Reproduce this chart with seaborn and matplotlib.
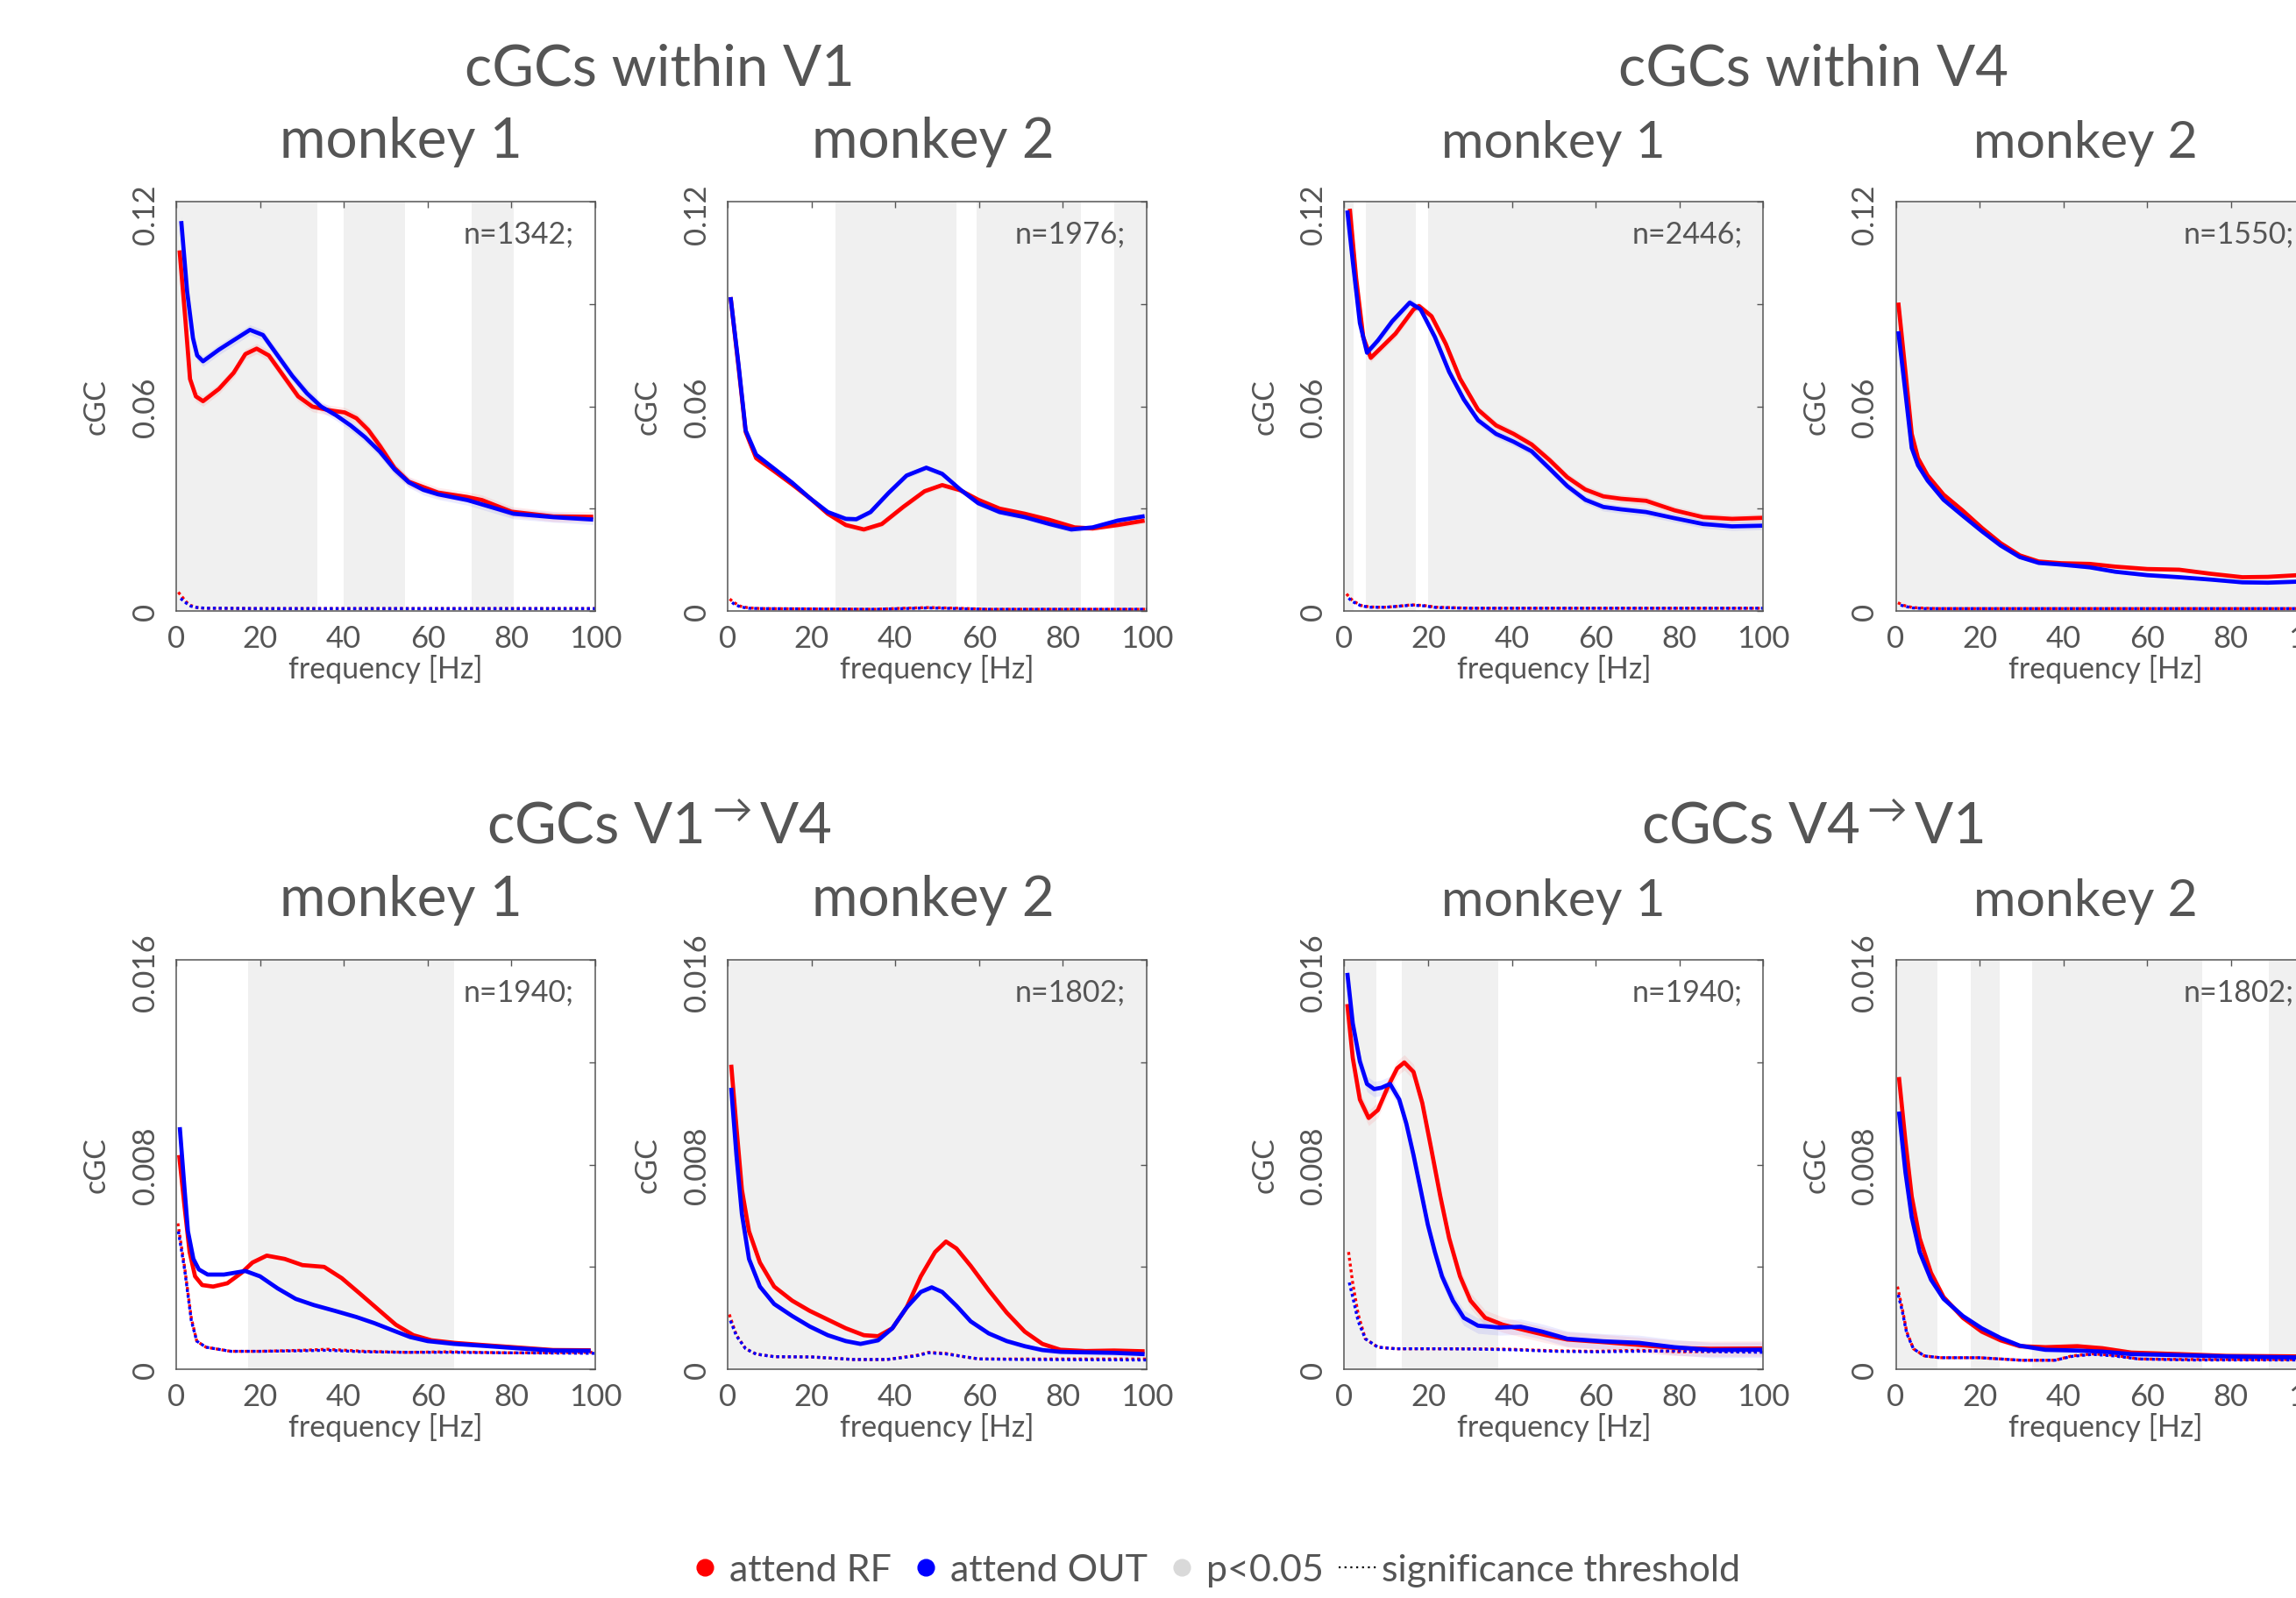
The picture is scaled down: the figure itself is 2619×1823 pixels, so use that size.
import numpy as np
import matplotlib
matplotlib.use("Agg")
import matplotlib.pyplot as plt
from matplotlib.lines import Line2D
from matplotlib.transforms import ScaledTranslation
import seaborn as sns

# ---------------- data ----------------
# top row: cGCs within V1 / V4   (y range 0 .. 0.12)
V1M1_F_RF = [0.8, 2.2, 3.3, 4.7, 6.4, 10.2, 13.7, 16.5, 19.2, 22.1, 25.6, 29.1, 32.5, 36.7, 40.2, 43, 45.8, 48.6, 52.1, 55.5, 62.5, 69.5, 73, 80, 90, 99.5]
V1M1_RF = [0.1057, 0.0852, 0.068, 0.0629, 0.0615, 0.0651, 0.0698, 0.0753, 0.0769, 0.0749, 0.0689, 0.0629, 0.0599, 0.0588, 0.0582, 0.0565, 0.0531, 0.0484, 0.0419, 0.0379, 0.0347, 0.0334, 0.0325, 0.0291, 0.0277, 0.0276]
V1M1_F_OUT = [1.2, 2.6, 4.0, 5.0, 6.4, 10.2, 13.5, 17.6, 20.7, 24.2, 27.7, 31.2, 34.6, 38.1, 41.6, 45.1, 48.6, 52.1, 55.5, 59, 62.5, 69.5, 76.4, 80.5, 90, 99.5]
V1M1_OUT = [0.1143, 0.0937, 0.080, 0.0749, 0.0732, 0.0766, 0.0792, 0.0824, 0.0809, 0.0749, 0.0689, 0.0638, 0.0599, 0.0574, 0.0544, 0.0509, 0.0467, 0.0415, 0.0377, 0.0355, 0.0342, 0.0325, 0.0300, 0.0285, 0.0275, 0.0268]
V1M1_THR_F = [0.5, 1.5, 2.5, 3.5, 5, 7, 10, 20, 40, 60, 80, 100]
V1M1_THR_RF = [0.0055, 0.0040, 0.0025, 0.0016, 0.0010, 0.0008, 0.0008, 0.0007, 0.0007, 0.0007, 0.0007, 0.0007]
V1M1_THR_OUT = [0.0042, 0.0032, 0.0022, 0.0014, 0.0010, 0.0008, 0.0008, 0.0007, 0.0007, 0.0007, 0.0007, 0.0007]
V1M1_SIG = [(0, 33.7), (40, 54.7), (70.5, 80.5)]

V1M2_F_RF = [0.7, 2.6, 4.3, 6.8, 11.1, 15.4, 19.6, 23.9, 28.2, 32.5, 36.8, 41.9, 47, 51.2, 55.5, 59.8, 64.9, 70.9, 76.8, 82.8, 87.1, 93.1, 99.5]
V1M2_RF = [0.092, 0.0715, 0.0525, 0.0448, 0.041, 0.0371, 0.0331, 0.0285, 0.0252, 0.0239, 0.0255, 0.0305, 0.0351, 0.0369, 0.0354, 0.0326, 0.030, 0.0285, 0.0267, 0.0245, 0.0242, 0.0252, 0.0265]
V1M2_F_OUT = [0.7, 2.6, 4.3, 6.8, 11.1, 15.4, 19.6, 23.9, 28.2, 30.7, 34.1, 38.4, 42.7, 47.4, 51.2, 55.5, 59.8, 64.9, 70.9, 76.8, 82, 87.1, 93.1, 99.5]
V1M2_OUT = [0.092, 0.0722, 0.0529, 0.0458, 0.0417, 0.0376, 0.0331, 0.029, 0.027, 0.0269, 0.029, 0.0346, 0.0397, 0.042, 0.0402, 0.0356, 0.0316, 0.029, 0.0275, 0.0255, 0.0239, 0.0245, 0.0265, 0.0278]
V1M2_THR_F = [0.5, 1.5, 3, 5, 8, 20, 35, 42, 48, 55, 62, 80, 100]
V1M2_THR_RF = [0.0035, 0.0025, 0.0014, 0.0009, 0.0007, 0.0006, 0.0005, 0.0008, 0.0010, 0.0008, 0.0005, 0.0005, 0.0005]
V1M2_THR_OUT = [0.0030, 0.0021, 0.0012, 0.0008, 0.0007, 0.0006, 0.0005, 0.0007, 0.0009, 0.0007, 0.0005, 0.0005, 0.0005]
V1M2_SIG = [(25.8, 54.5), (59.5, 84.3), (92.2, 100)]

V4M1_F_RF = [1.3, 2.8, 4.5, 6.3, 8.8, 12.2, 16.5, 17.8, 20.8, 24.2, 27.6, 31.9, 36.2, 40.4, 44.7, 49, 53.2, 57.5, 61.8, 66, 72, 78.8, 85.6, 92.5, 99.7]
V4M1_RF = [0.1179, 0.0976, 0.0803, 0.0742, 0.0772, 0.0813, 0.0884, 0.0894, 0.0864, 0.0783, 0.0681, 0.059, 0.0544, 0.0519, 0.0488, 0.0442, 0.0392, 0.0356, 0.0336, 0.0329, 0.0323, 0.0295, 0.0275, 0.027, 0.0273]
V4M1_F_OUT = [0.7, 2, 3.7, 5.4, 8, 11.4, 15.6, 18.2, 21.6, 25, 28.5, 31.9, 36.2, 40.4, 44.7, 49, 53.2, 57.5, 61.8, 66, 72, 78.8, 85.6, 92.5, 99.7]
V4M1_OUT = [0.1174, 0.1026, 0.0844, 0.0757, 0.0793, 0.0849, 0.0904, 0.0884, 0.0803, 0.0701, 0.062, 0.0559, 0.0519, 0.0496, 0.0468, 0.0417, 0.0366, 0.0326, 0.0305, 0.0298, 0.029, 0.0272, 0.0255, 0.0248, 0.025]
V4M1_THR_F = [0.5, 2, 4, 6, 8, 10, 13, 16, 19, 22, 30, 50, 100]
V4M1_THR_RF = [0.0050, 0.0030, 0.0016, 0.0012, 0.0011, 0.0011, 0.0014, 0.0018, 0.0016, 0.0011, 0.0008, 0.0008, 0.0008]
V4M1_THR_OUT = [0.0043, 0.0027, 0.0015, 0.0011, 0.0011, 0.0011, 0.0014, 0.0017, 0.0015, 0.0010, 0.0008, 0.0008, 0.0008]
V4M1_SIG = [(0, 2.1), (5.1, 17.1), (19.9, 100)]

V4M2_F = [0.6, 2.3, 3.8, 5.3, 7.6, 11.4, 15.9, 20.5, 25, 29.6, 34.1, 39.5, 46.3, 52.4, 60, 67.6, 75.2, 82.7, 88.8, 96]
V4M2_RF = [0.0904, 0.0701, 0.0519, 0.0448, 0.0397, 0.0341, 0.0295, 0.0244, 0.0199, 0.0163, 0.0145, 0.014, 0.0138, 0.013, 0.0123, 0.0121, 0.0109, 0.0099, 0.0100, 0.0105]
V4M2_OUT = [0.082, 0.064, 0.0478, 0.0427, 0.0382, 0.0326, 0.028, 0.0234, 0.0192, 0.0158, 0.0141, 0.0136, 0.0128, 0.0115, 0.0105, 0.0099, 0.0092, 0.0084, 0.0083, 0.0086]
V4M2_THR_F = [0.5, 2, 4, 7, 10, 30, 60, 96]
V4M2_THR_RF = [0.0024, 0.0016, 0.0010, 0.0008, 0.0007, 0.0007, 0.0007, 0.0007]
V4M2_THR_OUT = [0.0020, 0.0014, 0.0009, 0.0007, 0.0007, 0.0007, 0.0007, 0.0007]
V4M2_SIG = [(0, 100)]

# bottom row: cGCs V1->V4 / V4->V1   (y range 0 .. 0.016)
FF1_F_RF = [0.7, 2, 3.2, 4.5, 6.2, 8.8, 12.2, 15.6, 18.2, 21.6, 25.9, 30.1, 35.3, 39.5, 43.8, 48.1, 52.4, 56.6, 60.9, 66.4, 72.8, 81.4, 89.9, 98.9]
FF1_RF = [0.00837, 0.00634, 0.00458, 0.00363, 0.00329, 0.00323, 0.00336, 0.00377, 0.00417, 0.00444, 0.00431, 0.00407, 0.004, 0.00356, 0.00296, 0.00235, 0.00174, 0.00133, 0.00113, 0.00103, 0.00095, 0.00085, 0.00075, 0.00074]
FF1_F_OUT = [0.85, 2, 2.8, 4.1, 5.4, 7.5, 11.4, 16.5, 20, 24.2, 28.5, 32.8, 37.9, 43, 47.3, 51.5, 55.8, 60, 66.4, 72.8, 81.4, 89.9, 98.9]
FF1_OUT = [0.00946, 0.00702, 0.00539, 0.00431, 0.0039, 0.0037, 0.0037, 0.00384, 0.00363, 0.00316, 0.00275, 0.00251, 0.00228, 0.00204, 0.0018, 0.00153, 0.00126, 0.0011, 0.00099, 0.00092, 0.00082, 0.00073, 0.00072]
FF1_THR_F = [0.4, 2, 3.6, 4.9, 7.1, 13, 20, 30, 36, 45, 55, 65, 80, 100]
FF1_THR_RF = [0.0057, 0.0040, 0.0020, 0.0011, 0.00086, 0.0007, 0.0007, 0.00074, 0.00078, 0.0007, 0.00066, 0.00068, 0.00064, 0.00066]
FF1_THR_OUT = [0.0055, 0.0039, 0.0019, 0.0011, 0.00086, 0.0007, 0.0007, 0.00072, 0.00074, 0.00068, 0.00066, 0.00066, 0.00064, 0.00062]
FF1_SIG = [(17.1, 66.4)]

FF2_F_RF = [0.85, 2.1, 3.4, 5.1, 7.7, 11.1, 15.4, 19.6, 23.9, 28.2, 32.5, 35.9, 39.3, 42.7, 46.1, 49.5, 52.1, 54.6, 58, 62.3, 66.6, 70.9, 75.1, 79.4, 85.4, 92.2, 99.5]
FF2_RF = [0.0119, 0.00946, 0.00702, 0.00539, 0.00417, 0.00323, 0.00268, 0.00228, 0.00194, 0.0016, 0.00133, 0.00129, 0.0016, 0.00241, 0.00363, 0.00458, 0.00499, 0.00472, 0.00404, 0.00309, 0.00221, 0.00147, 0.00099, 0.00076, 0.00071, 0.00073, 0.0007]
FF2_F_OUT = [0.85, 2.1, 3.4, 5.1, 7.7, 11.1, 15.4, 19.6, 23.9, 28.2, 31.7, 35.9, 39.3, 42.7, 46.1, 48.7, 51.2, 54.6, 58, 62.3, 66.6, 70.9, 75.1, 79.4, 85.4, 92.2, 99.5]
FF2_OUT = [0.011, 0.00837, 0.00607, 0.00431, 0.00323, 0.00255, 0.00208, 0.00167, 0.00133, 0.0011, 0.00099, 0.00113, 0.0016, 0.00241, 0.00302, 0.0032, 0.00302, 0.00248, 0.00187, 0.0014, 0.0011, 0.0009, 0.00075, 0.00068, 0.00066, 0.00064, 0.00059]
FF2_THR_F = [0.4, 2.1, 4.3, 6.8, 11.1, 20, 30, 38, 45, 48, 52, 56, 60, 70, 100]
FF2_THR_RF = [0.00214, 0.00133, 0.0008, 0.00059, 0.00049, 0.00048, 0.00038, 0.00038, 0.00054, 0.00066, 0.00062, 0.0005, 0.0004, 0.0004, 0.0004]
FF2_THR_OUT = [0.0020, 0.0013, 0.0008, 0.00059, 0.00049, 0.00048, 0.00038, 0.00038, 0.00052, 0.00064, 0.0006, 0.0005, 0.0004, 0.00038, 0.00036]
FF2_SIG = [(0, 100)]

FB1_F_RF = [0.7, 2, 3.7, 5.8, 8, 10.5, 12.6, 14.3, 16.5, 18.6, 20.7, 22.9, 25, 27.6, 30.1, 33.6, 37.8, 43, 48.1, 53.2, 61.8, 70.3, 78.8, 87.4, 99.7]
FB1_RF = [0.01427, 0.01217, 0.01054, 0.00982, 0.01013, 0.01108, 0.01176, 0.01199, 0.01162, 0.0104, 0.00864, 0.00675, 0.00512, 0.00363, 0.00268, 0.00201, 0.00174, 0.00153, 0.00133, 0.00116, 0.00106, 0.00095, 0.00083, 0.0008, 0.00081]
FB1_F_OUT = [0.7, 2, 3.7, 5.4, 7.1, 8.8, 10.9, 13.1, 14.8, 16.5, 18.2, 19.9, 21.6, 23.3, 25.9, 28.5, 31.9, 37, 42.1, 47.2, 53.2, 61.8, 70.3, 78.8, 87.4, 99.7]
FB1_OUT = [0.01549, 0.01352, 0.01203, 0.01115, 0.01095, 0.011, 0.01115, 0.01054, 0.00959, 0.00837, 0.00702, 0.00566, 0.00458, 0.00363, 0.00268, 0.00201, 0.0017, 0.00163, 0.00166, 0.00147, 0.00119, 0.00109, 0.00103, 0.00086, 0.00075, 0.00076]
FB1_THR_F = [1, 2, 3.3, 5, 8, 12.2, 20, 30, 40, 50, 60, 70, 80, 90, 100]
FB1_THR_RF = [0.00458, 0.00336, 0.00214, 0.00119, 0.00086, 0.0008, 0.0008, 0.0008, 0.00078, 0.00072, 0.0007, 0.00074, 0.00068, 0.0007, 0.00072]
FB1_THR_OUT = [0.0035, 0.00282, 0.00187, 0.00119, 0.00086, 0.0008, 0.0008, 0.00079, 0.00076, 0.0007, 0.00068, 0.0007, 0.00072, 0.00068, 0.00066]
FB1_SIG = [(0, 7.7), (13.7, 36.7)]

FB2_F = [0.75, 2.3, 3.8, 5.7, 8.4, 11.4, 16, 20.5, 25, 29.6, 35.7, 43.3, 49.3, 56.2, 67.5, 78.9, 96]
FB2_RF = [0.01142, 0.00891, 0.00675, 0.00512, 0.00377, 0.00282, 0.00201, 0.00147, 0.00113, 0.0009, 0.00086, 0.0009, 0.00082, 0.00065, 0.00059, 0.00052, 0.0005]
FB2_OUT = [0.01007, 0.0077, 0.00594, 0.00458, 0.0035, 0.00275, 0.00208, 0.0016, 0.00122, 0.00092, 0.00076, 0.00073, 0.00069, 0.00059, 0.00055, 0.0005, 0.00046]
FB2_THR_F = [0.4, 1.5, 2.6, 4.2, 6.8, 10.6, 20, 30, 38, 42, 47, 52, 58, 70, 96]
FB2_THR_RF = [0.00323, 0.00241, 0.00147, 0.0008, 0.00052, 0.00045, 0.00045, 0.00035, 0.00035, 0.00052, 0.0006, 0.00055, 0.0004, 0.00038, 0.00038]
FB2_THR_OUT = [0.00302, 0.0023, 0.0014, 0.0008, 0.00052, 0.00045, 0.00045, 0.00035, 0.00035, 0.0005, 0.00058, 0.00052, 0.0004, 0.00036, 0.00036]
FB2_SIG = [(0, 9.9), (17.8, 24.7), (32.6, 73.2), (89.1, 100)]

N_LABELS = ["n=1342;", "n=1976;", "n=2446;", "n=1550;", "n=1940;", "n=1802;", "n=1940;", "n=1802;"]
BAND = [0.0015, 0.0008, 0.0012, 0.0005, 0.00008, 0.0001, 0.0003, 0.0001]
GROUP_TITLES = ["cGCs within V1", "cGCs within V4", r"cGCs V1$^{\rightarrow}$V4", r"cGCs V4$^{\rightarrow}$V1"]
MONKEY_TITLES = ["monkey 1", "monkey 2", "monkey 1", "monkey 2"]
X_TICKS = [0, 20, 40, 60, 80, 100]
Y_TICKS_TOP = [0, 0.03, 0.06, 0.09, 0.12]
Y_LABELS_TOP = ["0", "", "0.06", "", "0.12"]
Y_TICKS_BOT = [0, 0.004, 0.008, 0.012, 0.016]
Y_LABELS_BOT = ["0", "", "0.008", "", "0.016"]
LEGEND_LABELS = ["attend RF", "attend OUT", "p<0.05", "significance threshold"]

# ---------------- style ----------------
sns.set_style("white")
plt.rcParams["font.family"] = ["Lato", "DejaVu Sans"]
plt.rcParams["mathtext.fontset"] = "custom"
plt.rcParams["mathtext.rm"] = "Lato"
plt.rcParams["mathtext.it"] = "Lato:italic"
plt.rcParams["mathtext.bf"] = "Lato:bold"
TXT = "#555555"
RED, BLUE, SHADE = "#ff0000", "#0000ff", "#f0f0f0"

W, H = 2619, 1824
fig = plt.figure(figsize=(W / 100, H / 100), dpi=100)

COL_LEFT = [201, 830, 1533.5, 2162.5]
ROW_TOP = [231, 1096]
AX_W, AX_H = 478, 467

panels = [
    (V1M1_F_RF, V1M1_RF, V1M1_F_OUT, V1M1_OUT, V1M1_THR_F, V1M1_THR_RF, V1M1_THR_OUT, V1M1_SIG),
    (V1M2_F_RF, V1M2_RF, V1M2_F_OUT, V1M2_OUT, V1M2_THR_F, V1M2_THR_RF, V1M2_THR_OUT, V1M2_SIG),
    (V4M1_F_RF, V4M1_RF, V4M1_F_OUT, V4M1_OUT, V4M1_THR_F, V4M1_THR_RF, V4M1_THR_OUT, V4M1_SIG),
    (V4M2_F, V4M2_RF, V4M2_F, V4M2_OUT, V4M2_THR_F, V4M2_THR_RF, V4M2_THR_OUT, V4M2_SIG),
    (FF1_F_RF, FF1_RF, FF1_F_OUT, FF1_OUT, FF1_THR_F, FF1_THR_RF, FF1_THR_OUT, FF1_SIG),
    (FF2_F_RF, FF2_RF, FF2_F_OUT, FF2_OUT, FF2_THR_F, FF2_THR_RF, FF2_THR_OUT, FF2_SIG),
    (FB1_F_RF, FB1_RF, FB1_F_OUT, FB1_OUT, FB1_THR_F, FB1_THR_RF, FB1_THR_OUT, FB1_SIG),
    (FB2_F, FB2_RF, FB2_F, FB2_OUT, FB2_THR_F, FB2_THR_RF, FB2_THR_OUT, FB2_SIG),
]

for i, (f_rf, rf, f_out, out, thr_f, thr_rf, thr_out, sig) in enumerate(panels):
    row, col = divmod(i, 4)
    left = COL_LEFT[col]
    top = ROW_TOP[row]
    ax = fig.add_axes([left / W, 1 - (top + AX_H) / H, AX_W / W, AX_H / H])
    ax.set_facecolor("white")
    for a, b in sig:
        ax.axvspan(a, b, color=SHADE, lw=0, zorder=0)

    b = BAND[i]
    ax.fill_between(f_rf, np.array(rf) - b, np.array(rf) + b, color=RED, alpha=0.08, lw=0, zorder=1)
    ax.fill_between(f_out, np.array(out) - b, np.array(out) + b, color=BLUE, alpha=0.08, lw=0, zorder=1)

    sns.lineplot(x=thr_f, y=thr_rf, ax=ax, color=RED, lw=2.4, linestyle=(0, (1, 1)), zorder=2)
    sns.lineplot(x=thr_f, y=thr_out, ax=ax, color=BLUE, lw=2.4, linestyle=(1, (1, 1)), zorder=2)
    sns.lineplot(x=f_rf, y=rf, ax=ax, color=RED, lw=3.4, zorder=3,
                 solid_joinstyle="round", solid_capstyle="butt")
    sns.lineplot(x=f_out, y=out, ax=ax, color=BLUE, lw=3.4, zorder=3,
                 solid_joinstyle="round", solid_capstyle="butt")

    ax.set_xlim(0, 100)
    if row == 0:
        ax.set_ylim(0, 0.12)
        ax.set_yticks(Y_TICKS_TOP, Y_LABELS_TOP)
    else:
        ax.set_ylim(0, 0.016)
        ax.set_yticks(Y_TICKS_BOT, Y_LABELS_BOT)
    ax.set_xticks(X_TICKS, [str(t) for t in X_TICKS])

    for s in ax.spines.values():
        s.set_color(TXT)
        s.set_linewidth(1.1)
        s.set_visible(True)
    ax.tick_params(direction="in", length=5, width=1, colors=TXT, top=True, right=True,
                   labelsize=25, labelcolor=TXT)
    ax.tick_params(axis="x", pad=11)
    ax.tick_params(axis="y", pad=14)
    ax.set_xlabel("frequency [Hz]", fontsize=24.5, color=TXT, labelpad=1)
    ax.set_ylabel("cGC", fontsize=24.5, color=TXT, labelpad=17)
    ylabs = ax.get_yticklabels()
    for lab in ylabs:
        lab.set_rotation(90)
        lab.set_rotation_mode("default")
        lab.set_ha("right")
        lab.set_va("center")
    ylabs[-1].set_transform(ylabs[-1].get_transform() + ScaledTranslation(0, -0.14, fig.dpi_scale_trans))

    ax.text(1 - 24 / AX_W, 1 - 46 / AX_H, N_LABELS[i], transform=ax.transAxes,
            ha="right", va="baseline", fontsize=24.5, color=TXT)

# titles
GROUP_X = [752, 2068]
GROUP_Y = [97, 962]
MONKEY_X = [457, 1064, 1772, 2379]
MONKEY_SIZE = [46, 46, 42.5, 42.5]
MONKEY_Y = [180, 1045]
for r in range(2):
    for g in range(2):
        fig.text(GROUP_X[g] / W, 1 - GROUP_Y[r] / H, GROUP_TITLES[2 * r + g],
                 ha="center", va="baseline", fontsize=47, color=TXT)
    for c in range(4):
        fig.text(MONKEY_X[c] / W, 1 - MONKEY_Y[r] / H, MONKEY_TITLES[c],
                 ha="center", va="baseline", fontsize=MONKEY_SIZE[c], color=TXT)

# legend
handles = [
    Line2D([0], [0], marker="o", ls="none", color=RED, markersize=13.5),
    Line2D([0], [0], marker="o", ls="none", color=BLUE, markersize=13.5),
    Line2D([0], [0], marker="o", ls="none", color="#d9d9d9", markersize=13.5),
    Line2D([0], [0], color="black", ls=(0, (1, 2)), lw=1.6),
]
fig.legend(handles, LEGEND_LABELS, loc="center", bbox_to_anchor=(1384 / W, 1 - 1792 / H),
           ncol=4, frameon=False, fontsize=31, handlelength=1.0, handletextpad=0.15,
           columnspacing=0.4, labelcolor=TXT, borderaxespad=0, borderpad=0)

fig.savefig("out.png", dpi=100)
